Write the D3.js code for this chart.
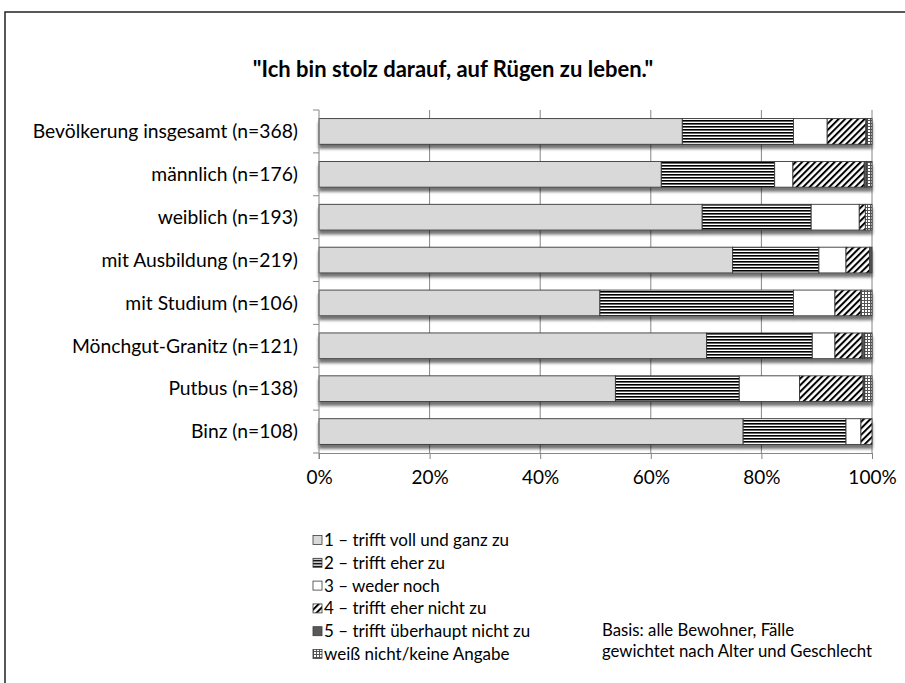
<!DOCTYPE html>
<html>
<head>
<meta charset="utf-8">
<script src="https://cdn.jsdelivr.net/npm/d3@7"></script>
<style>
  body { margin: 0; background: #fff; }
  svg { display: block; font-family: Lato, "Open Sans", sans-serif; }
</style>
</head>
<body>
<svg id="chart" width="905" height="683"></svg>
<script>
const categories = [
    'Bevölkerung insgesamt (n=368)',
    'männlich (n=176)',
    'weiblich (n=193)',
    'mit Ausbildung (n=219)',
    'mit Studium (n=106)',
    'Mönchgut-Granitz (n=121)',
    'Putbus (n=138)',
    'Binz (n=108)'
]

const seriesNames = [
    '1 – trifft voll und ganz zu',
    '2 – trifft eher zu',
    '3 – weder noch',
    '4 – trifft eher nicht zu',
    '5 – trifft überhaupt nicht zu',
    'weiß nicht/keine Angabe'
]

// percent per category, one array per answer
const s1 = [65.7, 61.9, 69.3, 74.8, 50.8, 70.1, 53.6, 76.7]
const s2 = [20.1, 20.5, 19.7, 15.6, 35.0, 19.1, 22.4, 18.6]
const s3 = [6.1, 3.3, 8.7, 4.9, 7.5, 4.1, 10.9, 2.7]
const s4 = [7.0, 12.9, 1.1, 4.3, 4.7, 4.9, 11.5, 2.0]
const s5 = [0.2, 0.4, 0, 0.4, 0, 0.5, 0.3, 0]
const s6 = [0.9, 1.0, 1.2, 0, 2.0, 1.3, 1.3, 0]

const xTicks = [0, 20, 40, 60, 80, 100]

const title = '"Ich bin stolz darauf, auf Rügen zu leben."'
const note = ['Basis: alle Bewohner, Fälle', 'gewichtet nach Alter und Geschlecht']

const allSeries = [s1, s2, s3, s4, s5, s6]
const rows = categories.map((c, i) => {
    const o = { cat: c }
    allSeries.forEach((s, k) => o['k' + k] = s[i])
    return o
})
const keys = allSeries.map((s, k) => 'k' + k)

const svg = d3.select('#chart')
const defs = svg.append('defs')

// fills
defs.append('pattern').attr('id', 'p-horiz')
    .attr('patternUnits', 'userSpaceOnUse').attr('width', 4).attr('height', 3)
    .call(p => {
        p.append('rect').attr('width', 4).attr('height', 3).attr('fill', '#fff')
        p.append('rect').attr('y', 0).attr('width', 4).attr('height', 1.6).attr('fill', '#000')
    })
defs.append('pattern').attr('id', 'p-diag')
    .attr('patternUnits', 'userSpaceOnUse').attr('width', 4.6).attr('height', 4.6)
    .attr('patternTransform', 'rotate(45)')
    .call(p => {
        p.append('rect').attr('width', 4.6).attr('height', 4.6).attr('fill', '#fff')
        p.append('rect').attr('width', 2).attr('height', 4.6).attr('fill', '#000')
    })
defs.append('pattern').attr('id', 'p-grid')
    .attr('patternUnits', 'userSpaceOnUse').attr('width', 3).attr('height', 3)
    .call(p => {
        p.append('rect').attr('width', 3).attr('height', 3).attr('fill', '#fff')
        p.append('rect').attr('width', 3).attr('height', 1).attr('fill', '#555')
        p.append('rect').attr('width', 1).attr('height', 3).attr('fill', '#555')
    })

const shadow = defs.append('filter').attr('id', 'shadow')
    .attr('x', '-5%').attr('y', '-20%').attr('width', '110%').attr('height', '160%')
shadow.append('feGaussianBlur').attr('in', 'SourceAlpha').attr('stdDeviation', 1.8)
shadow.append('feOffset').attr('dx', 0).attr('dy', 3.5).attr('result', 'off')
shadow.append('feComponentTransfer').call(f => f.append('feFuncA').attr('type', 'linear').attr('slope', 0.55))
shadow.append('feMerge').call(m => {
    m.append('feMergeNode')
    m.append('feMergeNode').attr('in', 'SourceGraphic')
})

const fills = ['#d9d9d9', 'url(#p-horiz)', '#ffffff', 'url(#p-diag)', '#595959', 'url(#p-grid)']

// frame
svg.append('rect')
    .attr('x', 5).attr('y', 12).attr('width', 1000).attr('height', 1000)
    .attr('fill', 'none').attr('stroke', '#222').attr('stroke-width', 1.5)

svg.append('text')
    .attr('x', 453).attr('y', 77)
    .attr('text-anchor', 'middle')
    .attr('font-size', 22).attr('font-weight', 'bold').attr('fill', '#000')
    .text(title)

const x = d3.scaleLinear().domain([0, 100]).range([319, 872])
const y = d3.scaleBand().domain(categories).range([110, 453])
    .paddingInner(0.4).paddingOuter(0.2)

// gridlines
svg.append('g').selectAll('line')
    .data(xTicks.slice(1))
    .enter().append('line')
        .attr('x1', d => x(d)).attr('x2', d => x(d))
        .attr('y1', 110).attr('y2', 453)
        .attr('stroke', '#868686').attr('stroke-width', 1)

// bars
const stack = d3.stack().keys(keys)(rows)
const layers = svg.append('g').attr('class', 'bars')
categories.forEach((c, i) => {
    const g = layers.append('g').attr('filter', 'url(#shadow)')
    g.selectAll('rect')
        .data(stack.map((layer, k) => ({ k: k, v: layer[i] })).filter(d => d.v[1] - d.v[0] > 0))
        .enter().append('rect')
            .attr('x', d => x(d.v[0]))
            .attr('y', y(c))
            .attr('width', d => x(d.v[1]) - x(d.v[0]))
            .attr('height', y.bandwidth())
            .attr('fill', d => fills[d.k])
            .attr('stroke', '#3a3a3a').attr('stroke-width', 0.9)
})

// left axis
const step = y.step()
svg.append('line')
    .attr('x1', 319).attr('x2', 319).attr('y1', 110).attr('y2', 459)
    .attr('stroke', '#868686')
svg.append('g').selectAll('line')
    .data(d3.range(categories.length + 1))
    .enter().append('line')
        .attr('x1', 313).attr('x2', 319)
        .attr('y1', d => 110 + d * step).attr('y2', d => 110 + d * step)
        .attr('stroke', '#868686')

// bottom axis
const xAxis = svg.append('g')
    .attr('transform', 'translate(0,453)')
    .call(d3.axisBottom(x).tickValues(xTicks).tickSize(6).tickPadding(12).tickFormat(d => d + '%'))
xAxis.select('.domain').attr('stroke', '#868686')
xAxis.selectAll('.tick line').attr('stroke', '#868686')
xAxis.selectAll('text').attr('font-size', 19).attr('font-family', 'Lato').attr('fill', '#000')

// category labels
svg.append('g').selectAll('text')
    .data(categories)
    .enter().append('text')
        .attr('x', 298)
        .attr('y', d => y(d) + y.bandwidth() / 2)
        .attr('dy', '0.35em')
        .attr('text-anchor', 'end')
        .attr('font-size', 19.3).attr('fill', '#000')
        .text(d => d)

// legend
const legend = svg.append('g').selectAll('g')
    .data(seriesNames)
    .enter().append('g')
        .attr('transform', (d, i) => `translate(313,${540 + i * 22.8})`)
legend.append('rect')
    .attr('x', 0).attr('y', -4.5).attr('width', 9).attr('height', 9)
    .attr('fill', (d, i) => fills[i]).attr('stroke', '#3a3a3a').attr('stroke-width', 0.8)
legend.append('text')
    .attr('x', 11).attr('dy', '0.35em')
    .attr('font-size', 17).attr('fill', '#000')
    .text(d => d)

svg.append('g').selectAll('text')
    .data(note)
    .enter().append('text')
        .attr('x', 602).attr('y', (d, i) => 636 + i * 20.5)
        .attr('font-size', 16.8).attr('fill', '#000')
        .text(d => d)
</script>
</body>
</html>
